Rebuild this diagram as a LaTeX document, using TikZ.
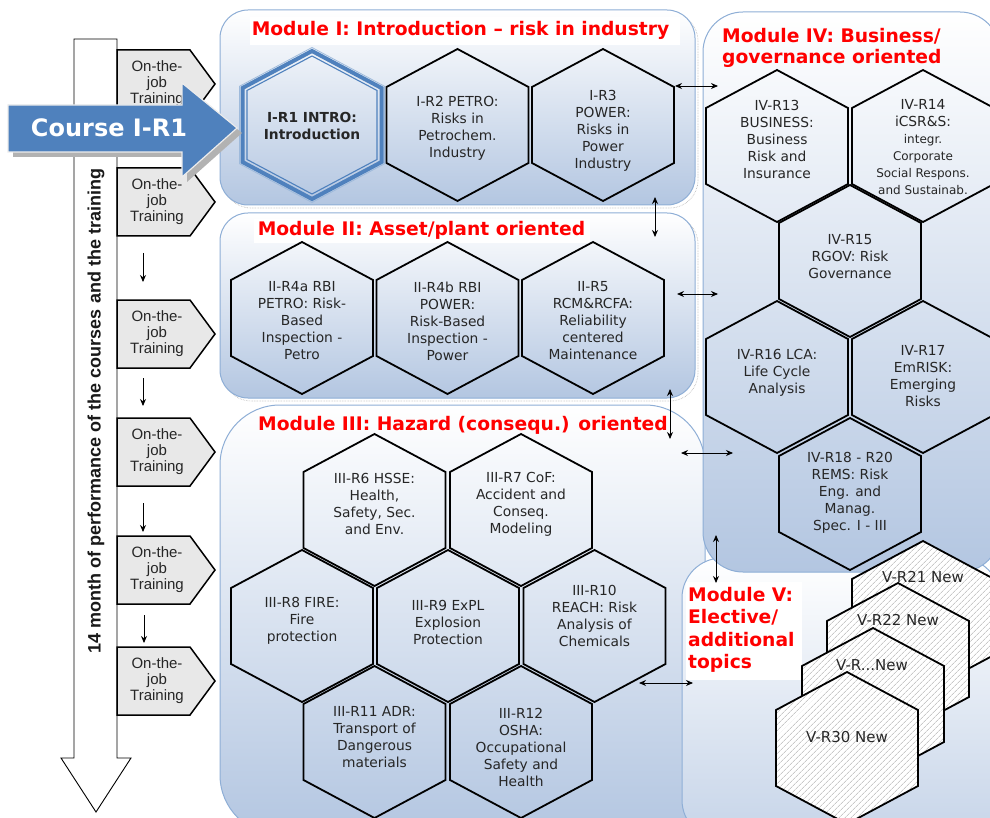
\documentclass[tikz,border=0pt]{standalone}
\usepackage{fontspec}
\setmainfont{DejaVu Sans}
\newfontfamily\arialf{Liberation Sans}
\usetikzlibrary{arrows.meta,patterns.meta}
\definecolor{boxblue}{HTML}{B3C6E1}
\definecolor{boxedge}{HTML}{8EAED6}
\definecolor{coursebl}{HTML}{4F81BD}
\definecolor{txtgray}{HTML}{262626}
\definecolor{ojtgray}{HTML}{E8E8E8}
\definecolor{titred}{HTML}{FF0000}
\newcommand\hexshape[5][]{%
  \draw[#1] (#2,#3-#5) -- (#2+#4,#3-#5/2) -- (#2+#4,#3+#5/2) -- (#2,#3+#5) -- (#2-#4,#3+#5/2) -- (#2-#4,#3-#5/2) -- cycle;}
\newcommand\hex[3][]{\hexshape[hexline,#1]{#2}{#3}{71}{76}}
\newcommand\ojt[2]{%
  \draw[ojtbox] (117,#1) -- (190,#1) -- (215,#1+34) -- (190,#1+68) -- (117,#1+68) -- cycle;
  \node[ojttext] (#2) at (157,#1+34) {On-the-\\job\\Training};}
\tikzset{
 hexline/.style={draw=black, line width=1.8pt, line join=miter},
 hextext/.style={align=center, text=txtgray, font=\fontsize{13.8}{17}\selectfont, inner sep=0pt},
 modbox/.style={draw=boxedge, line width=1pt, top color=white, bottom color=boxblue},
 modshadow/.style={draw=gray!60, densely dotted, line width=0.6pt},
 modtitle/.style={text=titred, font=\fontsize{18.7}{22}\selectfont\bfseries, inner sep=0pt, anchor=base},
 dblarrow/.style={{Stealth[length=7pt,width=6pt]}-{Stealth[length=7pt,width=6pt]}, line width=0.9pt},
 downarrow/.style={-{Stealth[length=7pt,width=6pt]}, line width=0.9pt},
 ojtbox/.style={fill=ojtgray, draw=black, line width=1.5pt, line join=miter},
 ojttext/.style={align=center, font=\arialf\fontsize{15}{16}\selectfont, text=txtgray, inner sep=0pt},
 hatched/.style={hexline, preaction={fill=white}, pattern={Lines[angle=45,distance=4pt,line width=0.6pt]}, pattern color=gray!65},
 vtext/.style={text=txtgray, font=\fontsize{15}{17}\selectfont, inner sep=0pt},
}
\begin{document}
\begin{tikzpicture}[x=1pt,y=-1pt]
\clip (0,0) rectangle (990,818);
\fill[white] (0,0) rectangle (990,818);
% ---------- module boxes
\draw[modshadow, rounded corners=28] (223,13) rectangle (698,208);
\draw[modbox, rounded corners=28] (220,10) rectangle (695,205);
\draw[modshadow, rounded corners=28] (223,216) rectangle (698,401);
\draw[modbox, rounded corners=28] (220,213) rectangle (695,398);
\draw[modbox, rounded corners=60] (220,405) rectangle (705,835);
\draw[modbox, bottom color=boxblue!75, rounded corners=40] (682,558) rectangle (1000,840);
\draw[modbox, rounded corners=40] (703,12) rectangle (1000,572);
% ---------- title backgrounds
\fill[white] (250,17) rectangle (680,45);
\fill[white] (254,219) rectangle (590,243);
\fill[white] (686,582) rectangle (802,680);
% ---------- Module I
\hexshape[draw=coursebl!55, line width=0.8pt]{312}{125}{72.5}{77.5}
\hexshape[draw=coursebl, line width=4pt, line join=miter]{312}{125}{69.5}{74}
\hexshape[draw=coursebl, line width=1.1pt, line join=miter]{312}{125}{65}{69}
\hex{457.5}{125}
\hex{603}{125}
\node[hextext, font=\fontsize{13.8}{17}\selectfont\bfseries] (r1) at (312,126) {I-R1 INTRO:\\Introduction};
\node[hextext] (r2) at (457.5,128.5) {I-R2 PETRO:\\Risks in\\Petrochem.\\Industry};
\node[hextext] (r3) at (603,131) {I-R3\\POWER:\\Risks in\\Power\\Industry};
% ---------- Module II
\hex{302}{318}
\hex{447.5}{318}
\hex{593}{318}
\node[hextext] (r4a) at (302,321) {II-R4a RBI\\PETRO: Risk-\\Based\\Inspection -\\Petro};
\node[hextext] (r4b) at (447.5,321) {II-R4b RBI\\POWER:\\Risk-Based\\Inspection -\\Power};
\node[hextext] (r5) at (593,321) {II-R5\\RCM\&RCFA:\\Reliability\\centered\\Maintenance};
% ---------- Module III
\hex{374.5}{510}
\hex{521}{510}
\hex{302}{626}
\hex{448}{626}
\hex{594.5}{626}
\hex{374.5}{742}
\hex{521}{742}
\node[hextext] (r6) at (374.5,504) {III-R6 HSSE:\\Health,\\Safety, Sec.\\and Env.};
\node[hextext] (r7) at (521,504) {III-R7 CoF:\\Accident and\\Conseq.\\Modeling};
\node[hextext] (r8) at (302,621) {III-R8 FIRE:\\Fire\\protection};
\node[hextext] (r9) at (448,622) {III-R9 ExPL\\Explosion\\Protection};
\node[hextext] (r10) at (594.5,616) {III-R10\\REACH: Risk\\Analysis of\\Chemicals};
\node[hextext] (r11) at (374.5,737) {III-R11 ADR:\\Transport of\\Dangerous\\materials};
\node[hextext] (r12) at (521,747) {III-R12\\OSHA:\\Occupational\\Safety and\\Health};
% ---------- Module IV
\hex{777}{146}
\hex{923}{146}
\hex{850}{261}
\hex{777}{377}
\hex{923}{377}
\hex{850}{494}
\node[hextext] (r13) at (777,139) {IV-R13\\BUSINESS:\\Business\\Risk and\\Insurance};
\node[hextext] (r14) at (923,147) {IV-R14\\iCSR\&S:\\{\fontsize{12}{17}\selectfont integr.}\\{\fontsize{12}{17}\selectfont Corporate}\\{\fontsize{12}{17}\selectfont Social Respons.}\\{\fontsize{12}{17}\selectfont and Sustainab.}};
\node[hextext] (r15) at (850,257) {IV-R15\\RGOV: Risk\\Governance};
\node[hextext] (r16) at (777,373) {IV-R16 LCA:\\Life Cycle\\Analysis};
\node[hextext] (r17) at (923,376) {IV-R17\\EmRISK:\\Emerging\\Risks};
\node[hextext] (r18) at (850,493) {IV-R18 - R20\\REMS: Risk\\Eng. and\\Manag.\\Spec. I - III};
% ---------- Module V
\hexshape[hatched]{923}{617}{71}{76}
\hexshape[hatched]{898}{659}{71}{76}
\hexshape[hatched]{873}{704}{71}{76}
\hexshape[hatched]{847}{748}{71}{76}
\node[vtext] (v21) at (923,577) {V-R21 New};
\node[vtext] (v22) at (898,620) {V-R22 New};
\node[vtext] (vdots) at (872,665) {V-R...New};
\node[vtext] (v30) at (847,737) {V-R30 New};
% ---------- titles
\node[modtitle] (t1) at (460.5,36) {Module I: Introduction -- risk in industry};
\node[modtitle] (t2) at (421.5,236) {Module II: Asset/plant oriented};
\node[modtitle] (t3) at (463,430) {Module III: Hazard (consequ.) oriented};
\node[modtitle, anchor=base west] (t4a) at (722,43) {Module IV: Business/};
\node[modtitle, anchor=base west] (t4b) at (722,63.5) {governance oriented};
\node[modtitle, anchor=base west] (t5a) at (688,601) {Module V:};
\node[modtitle, anchor=base west] (t5b) at (688,623.5) {Elective/};
\node[modtitle, anchor=base west] (t5c) at (688,646) {additional};
\node[modtitle, anchor=base west] (t5d) at (688,668.5) {topics};
% ---------- connectors between modules
\coordinate (a1s) at (675,86);  \coordinate (a1e) at (718,86);
\coordinate (a2s) at (655,197); \coordinate (a2e) at (655,237);
\coordinate (a3s) at (677,294); \coordinate (a3e) at (718,294);
\coordinate (a4s) at (670,389); \coordinate (a4e) at (670,439);
\coordinate (a5s) at (681,453); \coordinate (a5e) at (733,453);
\coordinate (a6s) at (716,535); \coordinate (a6e) at (716,583);
\coordinate (a7s) at (639,683); \coordinate (a7e) at (693,683);
\foreach \i in {1,...,7} {\draw[dblarrow] (a\i s) -- (a\i e);}
% ---------- left column
\draw[fill=white, draw=black, line width=0.9pt, line join=miter] (74,39) -- (117,39) -- (117,758) -- (131,758) -- (96,812) -- (61,758) -- (74,758) -- cycle;
\node[rotate=90, font=\arialf\bfseries\fontsize{18}{20}\selectfont, text=black!90, inner sep=0pt] (months) at (96,411) {14 month of performance of the courses and the training};
\ojt{50}{o1}
\ojt{168}{o2}
\ojt{300}{o3}
\ojt{418}{o4}
\ojt{536}{o5}
\ojt{647}{o6}
\coordinate (d1s) at (143,253); \coordinate (d1e) at (143,282);
\coordinate (d2s) at (143,378); \coordinate (d2e) at (143,406);
\coordinate (d3s) at (143,503); \coordinate (d3e) at (143,532);
\coordinate (d4s) at (144,615); \coordinate (d4e) at (144,643);
\foreach \i in {1,...,4} {\draw[downarrow] (d\i s) -- (d\i e);}
% ---------- course arrow
\fill[gray!60] (13,110) -- (187,110) -- (187,88) -- (242,133) -- (187,182) -- (187,157) -- (13,157) -- cycle;
\draw[fill=coursebl, draw=white!85!gray, line width=1.2pt, line join=miter] (8,105) -- (182,105) -- (182,83) -- (237,128) -- (182,177) -- (182,152) -- (8,152) -- cycle;
\node[font=\bfseries\fontsize{24}{28}\selectfont, text=white, inner sep=0pt] (course) at (109,128) {Course I-R1};
\end{tikzpicture}
\end{document}
